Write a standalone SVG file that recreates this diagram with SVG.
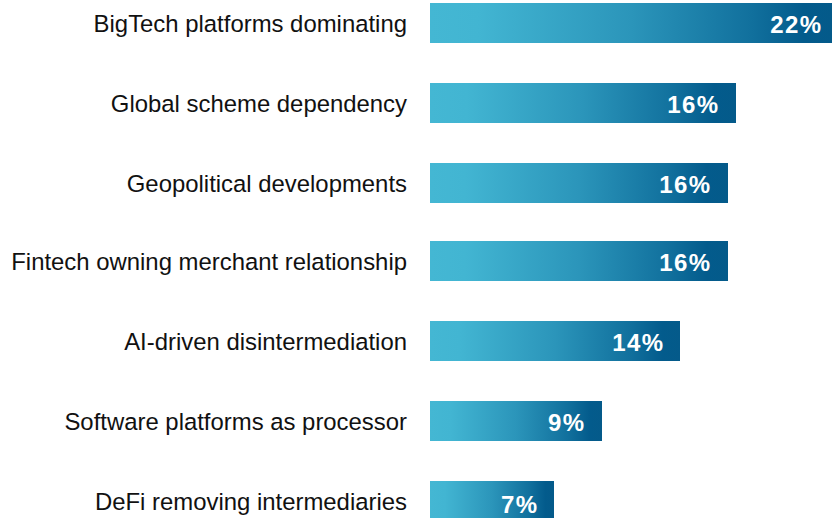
<svg xmlns="http://www.w3.org/2000/svg" width="832" height="518" viewBox="0 0 832 518">
<defs>
<linearGradient id="g" x1="0" y1="0" x2="1" y2="0">
<stop offset="0" stop-color="#44B7D3"/>
<stop offset="0.12" stop-color="#42B5D2"/>
<stop offset="0.5" stop-color="#2B95BA"/>
<stop offset="0.8" stop-color="#11709D"/>
<stop offset="0.93" stop-color="#035B8C"/>
<stop offset="1" stop-color="#045A8A"/>
</linearGradient>
<style>
.lbl{font-family:"Liberation Sans",Arial,sans-serif;font-size:23.9px;fill:#111;text-anchor:end}
.val{font-family:"Liberation Sans",Arial,sans-serif;font-size:24px;font-weight:bold;fill:#fff;text-anchor:end;letter-spacing:1.3px}
.bar{fill:url(#g)}
</style>
</defs>
<rect width="832" height="518" fill="#fff"/>
<g id="row1"><rect class="bar" x="430" y="3" width="402" height="40"/><text class="lbl" x="407" y="31.7">BigTech platforms dominating</text><text class="val" x="822.3" y="33.3">22%</text></g>
<g id="row2"><rect class="bar" x="430" y="83" width="306" height="40"/><text class="lbl" x="407" y="111.7">Global scheme dependency</text><text class="val" x="719.3" y="113.3">16%</text></g>
<g id="row3"><rect class="bar" x="430" y="163" width="298" height="40"/><text class="lbl" x="407" y="191.7">Geopolitical developments</text><text class="val" x="711.3" y="193.3">16%</text></g>
<g id="row4"><rect class="bar" x="430" y="241" width="298" height="40"/><text class="lbl" x="407" y="269.7">Fintech owning merchant relationship</text><text class="val" x="711.3" y="271.3">16%</text></g>
<g id="row5"><rect class="bar" x="430" y="321" width="250" height="40"/><text class="lbl" x="407" y="349.7">AI-driven disintermediation</text><text class="val" x="664.3" y="351.3">14%</text></g>
<g id="row6"><rect class="bar" x="430" y="401" width="172" height="40"/><text class="lbl" x="407" y="429.7">Software platforms as processor</text><text class="val" x="585.3" y="431.3">9%</text></g>
<g id="row7"><rect class="bar" x="430" y="481" width="124" height="40"/><text class="lbl" x="407" y="509.7">DeFi removing intermediaries</text><text class="val" x="538.3" y="513">7%</text></g>
<g id="connectors"/>
</svg>
